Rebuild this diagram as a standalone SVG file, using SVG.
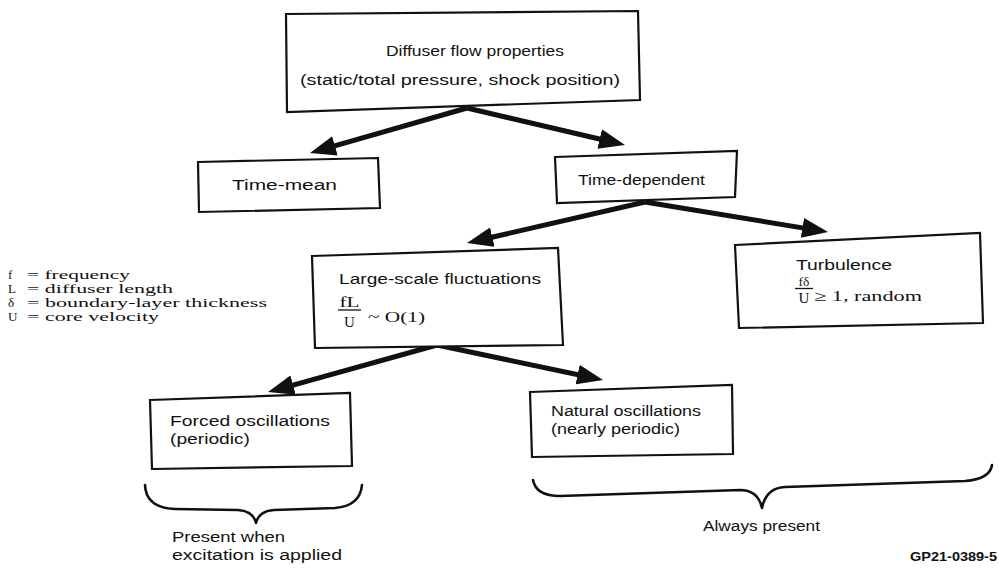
<svg xmlns="http://www.w3.org/2000/svg" width="999" height="574" viewBox="0 0 999 574">
<style>
.box{fill:#fff;stroke:#111;stroke-width:2.2;stroke-linejoin:miter}
.t{font-family:"Liberation Sans",Arial,sans-serif;font-size:15.5px;fill:#111}
.s{font-family:"Liberation Serif","Times New Roman",serif;font-size:15px;fill:#111}
.lg{font-family:"Liberation Serif","Times New Roman",serif;font-size:13px;fill:#111}
.arr{stroke:#111;stroke-width:5;fill:none;marker-end:url(#ah)}
.brace{stroke:#111;stroke-width:2.6;fill:none;stroke-linecap:round;stroke-linejoin:round}
.bar{stroke:#111;stroke-width:1.3}
</style>
<defs>
<marker id="ah" markerUnits="userSpaceOnUse" markerWidth="26" markerHeight="20" refX="14" refY="10" orient="auto">
<path d="M0,0 L26,10 L0,20 z" fill="#111"/>
</marker>
</defs>
<rect width="999" height="574" fill="#fff"/>
<g id="connectors">
<line class="arr" x1="467" y1="108" x2="321.5" y2="149.7"/>
<line class="arr" x1="467" y1="108" x2="613.3" y2="142.3"/>
<line class="arr" x1="645" y1="202" x2="478.7" y2="240.3"/>
<line class="arr" x1="645" y1="202" x2="816.2" y2="230.1"/>
<line class="arr" x1="437" y1="345" x2="279.6" y2="388.8"/>
<line class="arr" x1="437" y1="345" x2="591.3" y2="377.5"/>
</g>
<g id="node-diffuser">
<polygon class="box" points="286,14 638,11 640,100 287,112"/>
<text class="t" x="386" y="56" textLength="178" lengthAdjust="spacingAndGlyphs">Diffuser flow properties</text>
<text class="t" x="300" y="85" textLength="320" lengthAdjust="spacingAndGlyphs">(static/total pressure, shock position)</text>
</g>
<g id="node-timemean">
<polygon class="box" points="198,162 378,158 380,208 199,212"/>
<text class="t" x="232" y="190" textLength="105" lengthAdjust="spacingAndGlyphs">Time-mean</text>
</g>
<g id="node-timedependent">
<polygon class="box" points="555,157 737,151 735,197 557,203"/>
<text class="t" x="578" y="185" textLength="127" lengthAdjust="spacingAndGlyphs">Time-dependent</text>
</g>
<g id="node-largescale">
<polygon class="box" points="312,256 558,248 563,345 315,348"/>
<text class="t" x="339" y="284" textLength="202" lengthAdjust="spacingAndGlyphs">Large-scale fluctuations</text>
<text class="s" x="349.5" y="307" text-anchor="middle" textLength="20" lengthAdjust="spacingAndGlyphs">fL</text>
<line class="bar" x1="338" y1="310" x2="361" y2="310"/>
<text class="s" x="349.5" y="327" text-anchor="middle">U</text>
<text class="s" x="368" y="322" textLength="57" lengthAdjust="spacingAndGlyphs">~ O(1)</text>
</g>
<g id="node-turbulence">
<polygon class="box" points="735,245 980,233 983,323 739,328"/>
<text class="t" x="796" y="270" textLength="96" lengthAdjust="spacingAndGlyphs">Turbulence</text>
<text class="s" x="804" y="286" text-anchor="middle" style="font-size:13.5px">fδ</text>
<line class="bar" x1="795" y1="288.5" x2="813" y2="288.5"/>
<text class="s" x="804" y="303" text-anchor="middle">U</text>
<text class="s" x="814" y="301" textLength="108" lengthAdjust="spacingAndGlyphs">≥ 1, random</text>
</g>
<g id="node-forced">
<polygon class="box" points="150,400 350,393 352,466 152,469"/>
<text class="t" x="170" y="426" textLength="160" lengthAdjust="spacingAndGlyphs">Forced oscillations</text>
<text class="t" x="170" y="444" textLength="80" lengthAdjust="spacingAndGlyphs">(periodic)</text>
</g>
<g id="node-natural">
<polygon class="box" points="530,392 732,385 733,454 532,457"/>
<text class="t" x="551" y="416" textLength="150" lengthAdjust="spacingAndGlyphs">Natural oscillations</text>
<text class="t" x="551" y="434" textLength="129" lengthAdjust="spacingAndGlyphs">(nearly periodic)</text>
</g>
<g id="legend">
<text class="lg" x="8" y="279">f</text>
<text class="lg" x="27" y="279" textLength="103" lengthAdjust="spacingAndGlyphs">= frequency</text>
<text class="lg" x="8" y="293">L</text>
<text class="lg" x="27" y="293" textLength="146" lengthAdjust="spacingAndGlyphs">= diffuser length</text>
<text class="lg" x="8" y="307">δ</text>
<text class="lg" x="27" y="307" textLength="240" lengthAdjust="spacingAndGlyphs">= boundary-layer thickness</text>
<text class="lg" x="8" y="321">U</text>
<text class="lg" x="27" y="321" textLength="132" lengthAdjust="spacingAndGlyphs">= core velocity</text>
</g>
<g id="brace-left">
<path class="brace" d="M145,485 Q146,508 175,509 L238,510 Q253,511 256,523 Q259,511 274,510 L335,508 Q360,506 362,485"/>
<text class="t" x="172" y="542" textLength="113" lengthAdjust="spacingAndGlyphs">Present when</text>
<text class="t" x="172" y="560" textLength="170" lengthAdjust="spacingAndGlyphs">excitation is applied</text>
</g>
<g id="brace-right">
<path class="brace" d="M533,480 Q536,496 560,496 L740,490 Q758,490 762,508 Q766,488 785,487 L965,481 Q990,479 992,465"/>
<text class="t" x="703" y="531" textLength="117" lengthAdjust="spacingAndGlyphs">Always present</text>
</g>
<text x="910" y="561" style="font-family:'Liberation Sans',Arial,sans-serif;font-size:12px;font-weight:bold;fill:#111" textLength="87" lengthAdjust="spacingAndGlyphs">GP21-0389-5</text>
</svg>
